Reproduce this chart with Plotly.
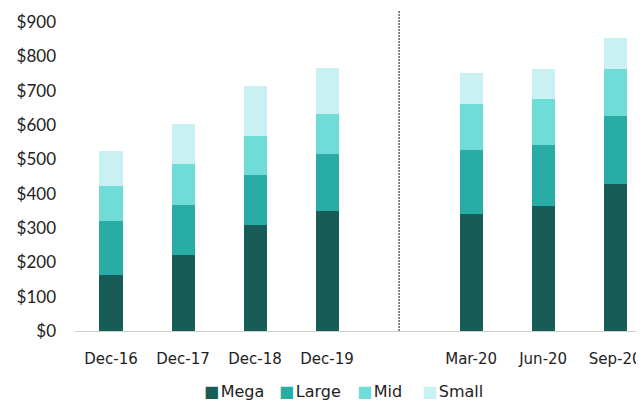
import plotly.graph_objects as go

periods = ["Dec-16", "Dec-17", "Dec-18", "Dec-19", "Mar-20", "Jun-20", "Sep-20"]
slots = [0, 1, 2, 3, 5, 6, 7]
mega = [163, 221, 310, 350, 342, 363, 429]
large = [158, 146, 143, 167, 185, 180, 198]
mid = [100, 118, 116, 114, 135, 132, 137]
small = [102, 118, 144, 134, 89, 89, 90]
y_ticks = [0, 100, 200, 300, 400, 500, 600, 700, 800, 900]
y_labels = ["$" + str(v) for v in y_ticks]

series_names = ["Mega", "Large", "Mid", "Small"]
series_vals = [mega, large, mid, small]
series_cols = ["#175c57", "#2aaca6", "#6fdcd8", "#c9f1f1"]
legend_x = [0.223, 0.355, 0.492, 0.606]

fig = go.Figure()
for name, vals, col in zip(series_names, series_vals, series_cols):
    fig.add_trace(go.Bar(x=slots, y=vals, name=name, marker_color=col,
                         marker_line_width=0, width=0.32, showlegend=False))

for name, col, lx in zip(series_names, series_cols, legend_x):
    fig.add_annotation(xref="paper", yref="paper", x=lx, y=-0.187,
                       xanchor="left", yanchor="middle", showarrow=False,
                       text='<span style="color:%s">■</span>\u200a%s' % (col, name),
                       font=dict(family="DejaVu Sans", size=16, color="#222222"))

fig.add_shape(type="line", xref="x", yref="y", x0=4, x1=4, y0=0, y1=935,
              line=dict(color="#666666", width=1.5, dash="2px,1px"))

fig.update_layout(
    barmode="stack",
    width=636, height=393,
    margin=dict(l=67, r=0, t=2, b=70),
    paper_bgcolor="white", plot_bgcolor="white",
    xaxis=dict(range=[-0.5, 7.4], tickmode="array", tickvals=slots, ticktext=periods,
               showgrid=False, zeroline=False, showline=True, linecolor="#d0d0d0", linewidth=1,
               tickfont=dict(family="DejaVu Sans", size=15, color="#222222"),
               ticks="", ticklabelstandoff=14, automargin=False),
    yaxis=dict(range=[0, 935], tickmode="array", tickvals=y_ticks, ticktext=y_labels,
               showgrid=False, zeroline=False, showline=False,
               tickfont=dict(family="Lato", size=17, color="#222222"),
               ticks="", ticklabelstandoff=18, automargin=False),
)

fig.write_html("out.html")
